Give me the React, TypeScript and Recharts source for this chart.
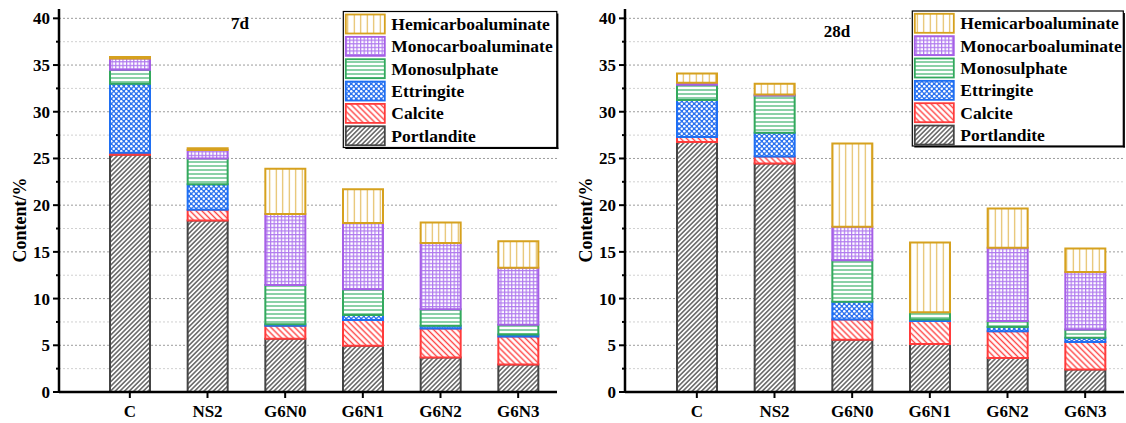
import React from "react";
import { BarChart, Bar, XAxis, YAxis, CartesianGrid } from "recharts";

// Sample groups on the category axis
const categories = ["C", "NS2", "G6N0", "G6N1", "G6N2", "G6N3"];

// Phase contents (%) after 7 days of curing
const portlandite7d = [25.4, 18.35, 5.7, 4.95, 3.7, 2.95];
const calcite7d = [0.2, 1.15, 1.4, 2.75, 3.1, 3.0];
const ettringite7d = [7.4, 2.75, 0.15, 0.55, 0.3, 0.2];
const monosulphate7d = [1.5, 2.75, 4.2, 2.75, 1.75, 1.05];
const monocarbo7d = [1.2, 0.9, 7.6, 7.1, 7.1, 6.1];
const hemicarbo7d = [0.15, 0.2, 4.85, 3.6, 2.2, 2.85];

// Phase contents (%) after 28 days of curing
const portlandite28d = [26.75, 24.45, 5.6, 5.15, 3.65, 2.4];
const calcite28d = [0.55, 0.75, 2.15, 2.45, 2.85, 2.95];
const ettringite28d = [3.95, 2.55, 1.9, 0.15, 0.45, 0.45];
const monosulphate28d = [1.65, 4.0, 4.45, 0.8, 0.65, 0.9];
const monocarbo28d = [0.2, 0.1, 3.6, 0, 7.85, 6.15];
const hemicarbo28d = [1.0, 1.15, 8.9, 7.45, 4.2, 2.5];

// Stack order, bottom to top
const phaseKeys = ["portlandite", "calcite", "ettringite", "monosulphate", "monocarbo", "hemicarbo"];
const phaseNames = ["Portlandite", "Calcite", "Ettringite", "Monosulphate", "Monocarboaluminate", "Hemicarboaluminate"];
const phaseColors = ["#454545", "#ff3b3b", "#1f6ff2", "#33a95d", "#a65fe6", "#d6a11e"];

// Y axis: labelled major ticks every 5, minor ticks every 2.5
const yTicks = [0, 2.5, 5, 7.5, 10, 12.5, 15, 17.5, 20, 22.5, 25, 27.5, 30, 32.5, 35, 37.5, 40];
const yMajorTicks = [0, 5, 10, 15, 20, 25, 30, 35, 40];
const yMax = 41;

const yLabel = "Content/%";

const FONT = "'Liberation Serif', 'Times New Roman', serif";

function buildRows(series: number[][]) {
  return categories.map((cat, i) => {
    const row: Record<string, string | number> = { cat };
    phaseKeys.forEach((k, j) => {
      row[k] = series[j][i];
    });
    return row;
  });
}

const rows7d = buildRows([portlandite7d, calcite7d, ettringite7d, monosulphate7d, monocarbo7d, hemicarbo7d]);
const rows28d = buildRows([portlandite28d, calcite28d, ettringite28d, monosulphate28d, monocarbo28d, hemicarbo28d]);

function Hatches({ id }: { id: string }) {
  return (
    <defs>
      <pattern id={`${id}-portlandite`} patternUnits="userSpaceOnUse" width={3.3} height={3.3} patternTransform="rotate(45)">
        <rect width={3.3} height={3.3} fill="#fff" />
        <line x1={1.65} y1={0} x2={1.65} y2={3.3} stroke="#3a3a3a" strokeWidth={1.2} />
      </pattern>
      <pattern id={`${id}-calcite`} patternUnits="userSpaceOnUse" width={4.2} height={4.2} patternTransform="rotate(-45)">
        <rect width={4.2} height={4.2} fill="#fff" />
        <line x1={2.1} y1={0} x2={2.1} y2={4.2} stroke="#ff4444" strokeWidth={1.4} />
      </pattern>
      <pattern id={`${id}-ettringite`} patternUnits="userSpaceOnUse" width={5} height={5}>
        <rect width={5} height={5} fill="#2b72f0" />
        <circle cx={1.25} cy={1.25} r={1.25} fill="#fff" />
        <circle cx={3.75} cy={3.75} r={1.25} fill="#fff" />
      </pattern>
      <pattern id={`${id}-monosulphate`} patternUnits="userSpaceOnUse" width={6} height={4}>
        <rect width={6} height={4} fill="#fff" />
        <line x1={0} y1={2} x2={6} y2={2} stroke="#4cb977" strokeWidth={1.3} />
      </pattern>
      <pattern id={`${id}-monocarbo`} patternUnits="userSpaceOnUse" width={3.6} height={3.6}>
        <rect width={3.6} height={3.6} fill="#fff" />
        <line x1={0.6} y1={0} x2={0.6} y2={3.6} stroke="#b07aee" strokeWidth={1.2} />
        <line x1={0} y1={0.6} x2={3.6} y2={0.6} stroke="#b07aee" strokeWidth={1.2} />
      </pattern>
      <pattern id={`${id}-hemicarbo`} patternUnits="userSpaceOnUse" width={6.5} height={6}>
        <rect width={6.5} height={6} fill="#fff" />
        <line x1={3.25} y1={0} x2={3.25} y2={6} stroke="#e2b853" strokeWidth={1.1} />
      </pattern>
    </defs>
  );
}

function YTick(props: any) {
  const { x, y, payload } = props;
  const major = yMajorTicks.includes(payload.value);
  const axisX = x + 9;
  return (
    <g>
      <line x1={axisX - (major ? 6 : 3)} y1={y} x2={axisX} y2={y} stroke="#000" strokeWidth={2} />
      {major && (
        <text x={x} y={y} dy={6} textAnchor="end" fontFamily={FONT} fontWeight="bold" fontSize={17} fill="#000">
          {payload.value}
        </text>
      )}
    </g>
  );
}

function gridLine(p: any) {
  const major = p.index % 2 === 0;
  return (
    <line
      key={`g-${p.index}`}
      x1={p.x1}
      y1={p.y1}
      x2={p.x2}
      y2={p.y2}
      stroke={major ? "#9c9c9c" : "#d0d0d0"}
      strokeWidth={1}
      strokeDasharray="2 2"
    />
  );
}

type LegendBox = { x: number; y: number; w: number; h: number; row0: number; step: number };

function PhaseLegend({ id, box }: { id: string; box: LegendBox }) {
  const order = [5, 4, 3, 2, 1, 0];
  return (
    <g>
      <rect x={box.x} y={box.y} width={box.w} height={box.h} fill="#fff" stroke="#000" strokeWidth={1.2} />
      <line x1={box.x + box.w + 0.8} y1={box.y + 2} x2={box.x + box.w + 0.8} y2={box.y + box.h + 1.6} stroke="#000" strokeWidth={1.6} />
      <line x1={box.x + 2} y1={box.y + box.h + 0.8} x2={box.x + box.w + 1.6} y2={box.y + box.h + 0.8} stroke="#000" strokeWidth={1.6} />
      {order.map((k, i) => {
        const cy = box.row0 + i * box.step;
        return (
          <g key={phaseKeys[k]}>
            <rect
              x={box.x + 2.5}
              y={cy - 9.5}
              width={39}
              height={19}
              fill={`url(#${id}-${phaseKeys[k]})`}
              stroke={phaseColors[k]}
              strokeWidth={1.8}
            />
            <text x={box.x + 48} y={cy + 6} fontFamily={FONT} fontWeight="bold" fontSize={17.5} fill="#000">
              {phaseNames[k]}
            </text>
          </g>
        );
      })}
    </g>
  );
}

type PanelProps = {
  id: string;
  title: string;
  titleX: number;
  titleY: number;
  rows: Record<string, string | number>[];
  axisWidth: number;
  rightMargin: number;
  padLeft: number;
  labelX: number;
  legend: LegendBox;
};

function Panel(p: PanelProps) {
  return (
    <BarChart
      width={563}
      height={423}
      data={p.rows}
      margin={{ top: 9, right: p.rightMargin, bottom: 0, left: 0 }}
      style={{ fontFamily: FONT }}
    >
      <Hatches id={p.id} />
      <CartesianGrid vertical={false} horizontal={gridLine} syncWithTicks />
      <XAxis
        dataKey="cat"
        height={31}
        padding={{ left: p.padLeft, right: 0 }}
        stroke="#000"
        axisLine={{ stroke: "#000", strokeWidth: 2.5 }}
        tickLine={{ stroke: "#000", strokeWidth: 2 }}
        tickSize={6}
        tickMargin={7}
        tick={{ fontFamily: FONT, fontWeight: "bold", fontSize: 17, fill: "#000" }}
        interval={0}
      />
      <XAxis
        xAxisId="top"
        dataKey="cat"
        orientation="top"
        height={0}
        tick={false}
        tickLine={false}
        axisLine={{ stroke: "#000", strokeWidth: 2 }}
      />
      <YAxis
        width={p.axisWidth}
        domain={[0, yMax]}
        ticks={yTicks}
        interval={0}
        allowDataOverflow
        tickSize={6}
        tickMargin={3}
        tickLine={false}
        axisLine={{ stroke: "#000", strokeWidth: 2.5 }}
        tick={<YTick />}
      />
      <YAxis
        yAxisId="right"
        orientation="right"
        width={0}
        domain={[0, yMax]}
        tick={false}
        tickLine={false}
        axisLine={{ stroke: "#000", strokeWidth: 2 }}
      />
      {phaseKeys.map((k, j) => (
        <Bar
          key={k}
          dataKey={k}
          name={phaseNames[j]}
          stackId="phases"
          barSize={40}
          fill={`url(#${p.id}-${k})`}
          stroke={phaseColors[j]}
          strokeWidth={2}
          isAnimationActive={false}
        />
      ))}
      <text x={p.titleX} y={p.titleY} textAnchor="middle" fontFamily={FONT} fontWeight="bold" fontSize={17} fill="#000">
        {p.title}
      </text>
      <text
        x={0}
        y={0}
        transform={`translate(${p.labelX},220) rotate(-90)`}
        textAnchor="middle"
        fontFamily={FONT}
        fontWeight="bold"
        fontSize={18}
        fill="#000"
      >
        {yLabel}
      </text>
      <PhaseLegend id={p.id} box={p.legend} />
    </BarChart>
  );
}

export default function App() {
  return (
    <div style={{ position: "absolute", left: 0, top: 0, width: 1126, height: 423, background: "#fff" }}>
      <div style={{ position: "absolute", left: 0, top: 0 }}>
        <Panel
          id="d7"
          title="7d"
          titleX={240}
          titleY={29}
          rows={rows7d}
          axisWidth={59}
          rightMargin={6}
          padLeft={32}
          labelX={25.5}
          legend={{ x: 343.3, y: 11.5, w: 213.5, h: 136, row0: 24, step: 22.35 }}
        />
      </div>
      <div style={{ position: "absolute", left: 563, top: 0 }}>
        <Panel
          id="d28"
          title="28d"
          titleX={274}
          titleY={36.7}
          rows={rows28d}
          axisWidth={62}
          rightMargin={2}
          padLeft={33}
          labelX={28.8}
          legend={{ x: 349.3, y: 11, w: 211, h: 135, row0: 23.3, step: 22.35 }}
        />
      </div>
    </div>
  );
}
